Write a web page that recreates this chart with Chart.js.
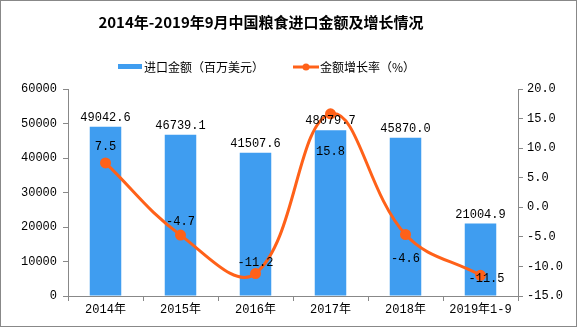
<!DOCTYPE html>
<html>
<head>
<meta charset="utf-8">
<script src="https://cdn.jsdelivr.net/npm/chart.js@4/dist/chart.umd.min.js"></script>
<style>
  html, body { margin: 0; padding: 0; background: #fff; }
  #box { width: 575px; height: 325px; border: 1px solid #888; position: relative; }
  canvas { display: block; }
</style>
</head>
<body>
<div id="box"><canvas id="grafico" width="575" height="325"></canvas></div>
<script>
// dados
const categorias = ['2014年', '2015年', '2016年', '2017年', '2018年', '2019年1-9'];
const valoresImportacao = [49042.6, 46739.1, 41507.6, 48079.7, 45870.0, 21004.9];
const taxaCrescimento = [7.5, -4.7, -11.2, 15.8, -4.6, -11.5];

const titulo = '2014年-2019年9月中国粮食进口金额及增长情况';
const legendaBarra = '进口金额（百万美元）';
const legendaLinha = '金额增长率（%）';

const corBarra = '#3f9df0';
const corLinha = '#ff6119';
const fonteMono = '"Liberation Mono", "Noto Sans CJK SC", monospace';
const fonteTicks = '"Liberation Mono", "Noto Sans CJK SC", monospace';

// deslocamento dos rótulos da linha (px, relativo ao ponto)
const deslocLinha = [[0, -16], [0, -13], [0, -11], [0, 38], [0, 24], [6, 4]];

const pluginExtras = {
  id: 'extras',
  afterDraw(chart) {
    const ctx = chart.ctx;
    ctx.save();
    // título
    ctx.fillStyle = '#000';
    ctx.font = 'bold 15px "Noto Sans CJK SC", sans-serif';
    ctx.textAlign = 'center';
    ctx.textBaseline = 'middle';
    ctx.fillText(titulo, 260, 21);

    // legenda
    ctx.font = '12px "Noto Sans CJK SC", sans-serif';
    ctx.textAlign = 'left';
    ctx.fillStyle = corBarra;
    ctx.fillRect(117, 63, 24, 5);
    ctx.fillStyle = '#000';
    ctx.fillText(legendaBarra, 143, 66);
    ctx.strokeStyle = corLinha;
    ctx.lineWidth = 3;
    ctx.beginPath();
    ctx.moveTo(292, 66);
    ctx.lineTo(318, 66);
    ctx.stroke();
    ctx.fillStyle = corLinha;
    ctx.beginPath();
    ctx.arc(305, 66, 3.5, 0, Math.PI * 2);
    ctx.fill();
    ctx.fillStyle = '#000';
    ctx.fillText(legendaLinha, 319, 66);

    // rótulos das barras
    ctx.font = '12px ' + fonteMono;
    ctx.textAlign = 'center';
    ctx.textBaseline = 'bottom';
    const barras = chart.getDatasetMeta(0).data;
    barras.forEach((b, i) => {
      ctx.fillText(valoresImportacao[i].toFixed(1), b.x, b.y - 3);
    });

    // rótulos da linha
    ctx.textBaseline = 'middle';
    const pontos = chart.getDatasetMeta(1).data;
    pontos.forEach((p, i) => {
      ctx.fillText(taxaCrescimento[i].toFixed(1), p.x + deslocLinha[i][0], p.y + deslocLinha[i][1]);
    });
    ctx.restore();
  }
};

const grafico = new Chart(document.getElementById('grafico'), {
  type: 'bar',
  data: {
    labels: categorias,
    datasets: [{
      label: legendaBarra,
      data: valoresImportacao,
      backgroundColor: corBarra,
      yAxisID: 'y',
      barPercentage: 0.42,
      categoryPercentage: 1,
      order: 2
    }, {
      type: 'line',
      label: legendaLinha,
      data: taxaCrescimento,
      borderColor: corLinha,
      backgroundColor: corLinha,
      borderWidth: 3,
      pointRadius: 4,
      pointBackgroundColor: corLinha,
      tension: 0.4,
      yAxisID: 'y1',
      order: 1
    }]
  },
  plugins: [pluginExtras],
  options: {
    responsive: false,
    animation: false,
    layout: { padding: { top: 88, bottom: 0, left: 0, right: 0 } },
    plugins: { legend: { display: false }, tooltip: { enabled: false } },
    scales: {
      x: {
        grid: { drawOnChartArea: false, tickLength: 5, color: '#888', offset: true },
        border: { color: '#888' },
        ticks: { color: '#000', font: { size: 12, family: fonteTicks }, padding: 2 },
        afterFit(s) { s.height = 30; }
      },
      y: {
        position: 'left',
        min: 0, max: 60000,
        ticks: { stepSize: 10000, color: '#000', font: { size: 12, family: fonteTicks }, padding: 6,
          callback: v => String(v) },
        grid: { drawOnChartArea: false, tickLength: 5, color: '#888' },
        border: { color: '#888' },
        afterFit(s) { s.width = 67; }
      },
      y1: {
        position: 'right',
        min: -15, max: 20,
        ticks: { stepSize: 5, color: '#000', font: { size: 12, family: fonteTicks }, padding: 4,
          callback: v => Number(v).toFixed(1) },
        grid: { drawOnChartArea: false, tickLength: 5, color: '#888' },
        border: { color: '#888' },
        afterFit(s) { s.width = 58; }
      }
    }
  }
});
</script>
</body>
</html>
